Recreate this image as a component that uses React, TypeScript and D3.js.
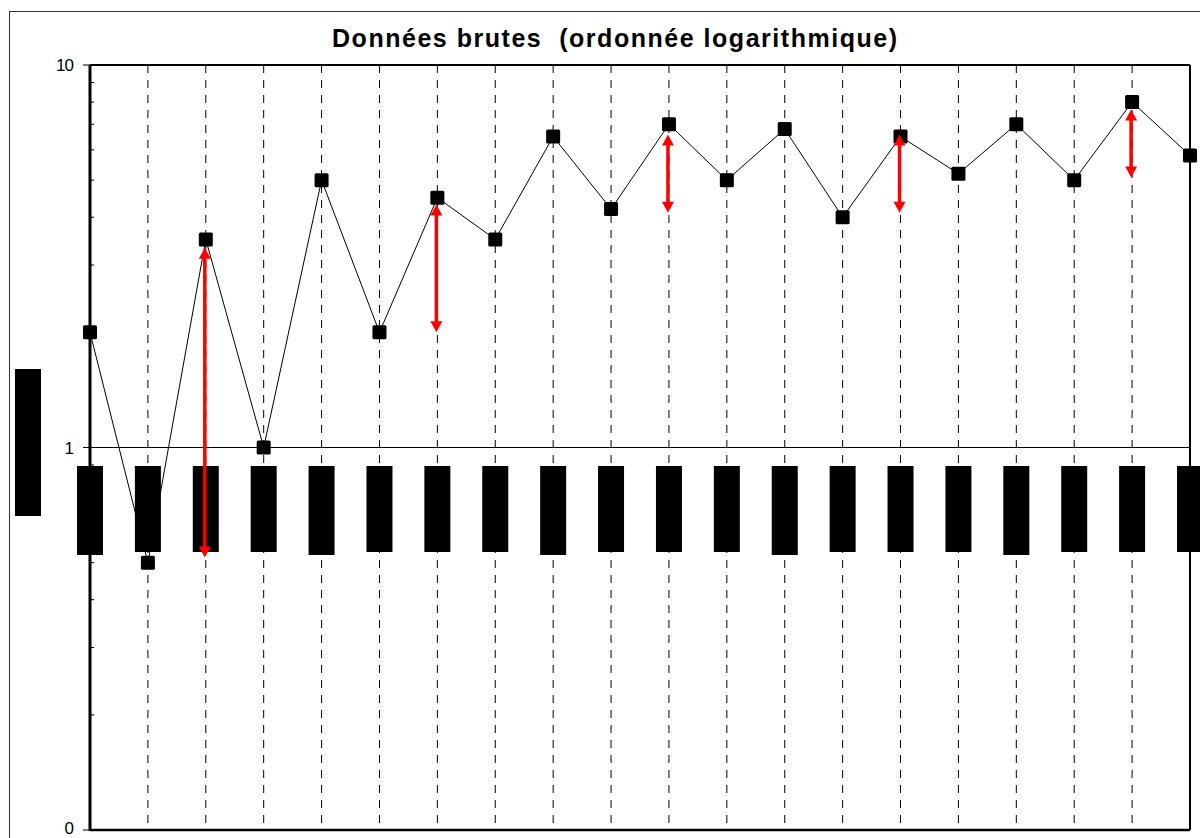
import React from "react";
import * as d3 from "d3";

const categories = Array.from({ length: 20 }, (_, i) => `P${i + 1}`);
const values = [2.0, 0.5, 3.5, 1.0, 5.0, 2.0, 4.5, 3.5, 6.5, 4.2, 7.0, 5.0, 6.8, 4.0, 6.5, 5.2, 7.0, 5.0, 8.0, 5.8];
const arrowIndex = [2, 6, 10, 14, 18];
const arrowTop = [3.33, 4.32, 6.58, 6.58, 7.65];
const arrowBottom = [0.516, 2.0, 4.11, 4.11, 5.08];
const yTickValues = [0.1, 1, 10];
const yTickLabels = ["0", "1", "10"];
const title = "Données brutes  (ordonnée logarithmique)";

export default function App() {
  const left = 90, right = 1190, top = 65, bottom = 830;
  const x = d3.scalePoint<number>().domain(d3.range(categories.length)).range([left, right]);
  const y = d3.scaleLog().domain([0.1, 10]).range([bottom, top]);
  const minor: number[] = [];
  for (const dec of [0.1, 1]) for (let k = 2; k <= 9; k++) minor.push(dec * k);
  const line = d3.line<number>().x((_, i) => x(i)!).y((d) => y(d));
  const font = "'Liberation Sans', Arial, sans-serif";

  return (
    <svg width={1200} height={838} style={{ position: "absolute", left: 0, top: 0, background: "#fff" }}>
      <rect x={9.5} y={11.5} width={1200} height={840} fill="none" stroke="#333" strokeWidth={1} />
      <text x={332} y={47} fontFamily={font} fontWeight="bold" fontSize={25} textLength={565} lengthAdjust="spacing" style={{ whiteSpace: "pre" }}>{title}</text>
      {/* dashed category gridlines */}
      {categories.map((c, i) =>
        i > 0 && i < categories.length - 1 ? (
          <line key={c} x1={x(i)} x2={x(i)} y1={top} y2={bottom} stroke="#000" strokeWidth={1} strokeDasharray="8,7" />
        ) : null
      )}
      {/* horizontal major gridline */}
      <line x1={left} x2={right} y1={y(1)} y2={y(1)} stroke="#000" strokeWidth={1} />
      {/* plot border */}
      <line x1={left} x2={right} y1={top} y2={top} stroke="#000" strokeWidth={2} />
      <line x1={right} x2={right} y1={top} y2={bottom} stroke="#000" strokeWidth={2} />
      <line x1={left} x2={right} y1={bottom} y2={bottom} stroke="#000" strokeWidth={2.5} />
      <line x1={left} x2={left} y1={top} y2={bottom + 1} stroke="#000" strokeWidth={3} />
      {/* ticks */}
      {minor.map((m) => (
        <line key={m} x1={left} x2={left + 4} y1={y(m)} y2={y(m)} stroke="#000" strokeWidth={1} />
      ))}
      {yTickValues.map((t, i) => (
        <g key={t}>
          <line x1={left - 7} x2={left} y1={y(t)} y2={y(t)} stroke="#000" strokeWidth={1} />
          <text x={73} y={Math.min(y(t) + 6, 834)} textAnchor="end" fontFamily={font} fontSize={17} letterSpacing={-1}>{yTickLabels[i]}</text>
        </g>
      ))}
      {/* data line */}
      <path d={line(values)!} fill="none" stroke="#000" strokeWidth={1} />
      {/* markers */}
      {values.map((v, i) => (
        <rect key={i} x={x(i)! - 7} y={y(v) - 7} width={14} height={14} rx={1.5} fill="#000" />
      ))}
      {/* x-axis category labels (obscured) */}
      {categories.map((c, i) => (
        <rect key={c} x={x(i)! - 13} y={466} width={26} height={i % 4 === 0 ? 89 : 86} fill="#000">
          <title>{c}</title>
        </rect>
      ))}
      {/* y-axis title (obscured) */}
      <rect x={15} y={369} width={26} height={147} fill="#000" />
      {/* arrows */}
      {arrowIndex.map((ci, k) => {
        const ax = x(ci)! - 1;
        const y1 = y(arrowTop[k]);
        const y2 = y(arrowBottom[k]);
        return (
          <g key={ci} fill="#f00">
            <line x1={ax} x2={ax} y1={y1 + 8} y2={y2 - 8} stroke="#f00" strokeWidth={3.5} />
            <path d={`M${ax},${y1} L${ax - 6},${y1 + 11} L${ax + 6},${y1 + 11} Z`} />
            <path d={`M${ax},${y2} L${ax - 6},${y2 - 11} L${ax + 6},${y2 - 11} Z`} />
          </g>
        );
      })}
    </svg>
  );
}
